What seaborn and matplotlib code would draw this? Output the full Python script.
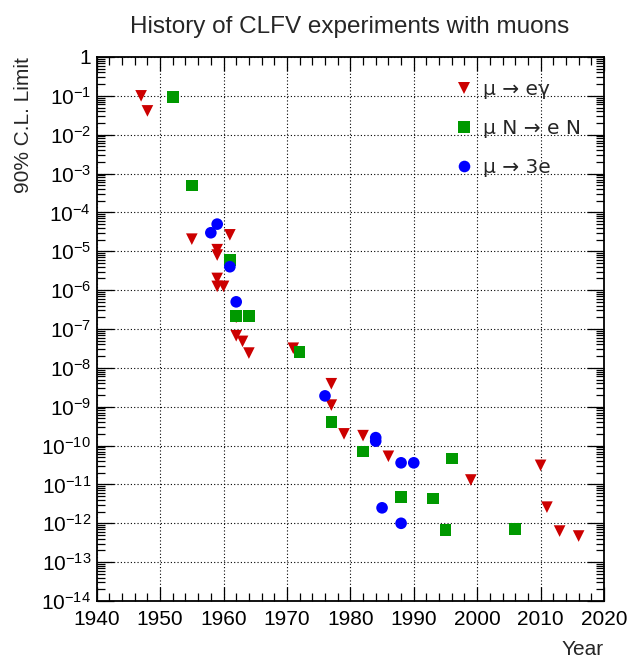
import numpy as np
import pandas as pd
import matplotlib
matplotlib.use("Agg")
import matplotlib.pyplot as plt
import matplotlib.ticker as mticker
import seaborn as sns

# ---------------- data ----------------
meg_year = [1947, 1948, 1955, 1961, 1959, 1959, 1959, 1959, 1960, 1962, 1962,
            1963, 1964, 1971, 1977, 1977, 1979, 1982, 1986, 1999, 2010, 2011,
            2013, 2016]
meg_limit = [1.0e-1, 4.1e-2, 2.05e-5, 2.65e-5, 1.1e-5, 8.0e-6, 2.0e-6, 1.25e-6,
             1.25e-6, 2.0e-7, 6.7e-8, 4.8e-8, 2.4e-8, 3.2e-8, 3.9e-9, 1.1e-9,
             2.0e-10, 1.8e-10, 5.3e-11, 1.3e-11, 3.1e-11, 2.6e-12, 6.3e-13,
             4.7e-13]

mue_year = [1952, 1955, 1961, 1962, 1964, 1972, 1977, 1982, 1988, 1993, 1995,
            1996, 2006]
mue_limit = [9.5e-2, 4.9e-4, 6.0e-6, 2.2e-7, 2.2e-7, 2.6e-8, 4.0e-10, 7.0e-11,
             4.7e-12, 4.3e-12, 6.6e-13, 4.6e-11, 7.2e-13]

m3e_year = [1958, 1959, 1961, 1962, 1976, 1984, 1984, 1985, 1988, 1990, 1988]
m3e_limit = [3.0e-5, 5.0e-5, 4.0e-6, 5.0e-7, 1.9e-9, 1.6e-10, 1.3e-10, 2.5e-12,
             3.6e-11, 3.6e-11, 1.0e-12]

processes = ["μ → eγ", "μ N → e N", "μ → 3e"]
colors = ["#cc0000", "#009900", "#0000ff"]
markers = ["v", "s", "o"]

xticks = [1940, 1950, 1960, 1970, 1980, 1990, 2000, 2010, 2020]
xtick_labels = ["1940", "1950", "1960", "1970", "1980", "1990", "2000", "2010", "2020"]
ytick_exps = list(range(0, -15, -1))
ytick_labels = ["1"] + [r"$10^{-%d}$" % (-e) for e in ytick_exps[1:]]

title = "History of CLFV experiments with muons"
xlabel = "Year"
ylabel = "90% C.L. Limit"

# ---------------- dataframe ----------------
df = pd.concat([
    pd.DataFrame({"year": meg_year, "limit": meg_limit, "process": processes[0]}),
    pd.DataFrame({"year": mue_year, "limit": mue_limit, "process": processes[1]}),
    pd.DataFrame({"year": m3e_year, "limit": m3e_limit, "process": processes[2]}),
], ignore_index=True)

# ---------------- style ----------------
sns.set_style("ticks")
plt.rcParams["font.family"] = ["Liberation Sans", "DejaVu Sans"]
plt.rcParams["mathtext.fontset"] = "custom"
plt.rcParams["mathtext.rm"] = "Liberation Sans"
plt.rcParams["mathtext.it"] = "Liberation Sans:italic"
plt.rcParams["mathtext.bf"] = "Liberation Sans:bold"

W, H = 630, 658
fig = plt.figure(figsize=(W / 100, H / 100), dpi=100)
ax_l, ax_r, ax_t, ax_b = 96.7, 604.0, 57.0, 601.0
ax = fig.add_axes([ax_l / W, 1 - ax_b / H, (ax_r - ax_l) / W, (ax_b - ax_t) / H])

fs = 15

sns.scatterplot(data=df, x="year", y="limit", hue="process", style="process",
                hue_order=processes, style_order=processes,
                palette=dict(zip(processes, colors)),
                markers=dict(zip(processes, markers)),
                s=70, linewidth=0, ax=ax, legend=True, zorder=3)

ax.set_yscale("log")
ax.set_xlim(1940, 2020)
ax.set_ylim(1e-14, 1)

ax.set_xticks(xticks, xtick_labels)
ax.xaxis.set_minor_locator(mticker.MultipleLocator(2))
ax.set_yticks([10.0 ** e for e in ytick_exps], ytick_labels)
ax.yaxis.set_minor_locator(mticker.LogLocator(base=10, subs=np.arange(2, 10), numticks=100))
ax.yaxis.set_minor_formatter(mticker.NullFormatter())

ax.tick_params(axis="both", which="both", direction="in", top=True, right=True,
               color="black", labelsize=fs, labelcolor="black")
ax.tick_params(axis="x", which="major", length=10.3, width=0.9, pad=6.5)
ax.tick_params(axis="x", which="minor", length=5.5, width=0.9)
ax.tick_params(axis="y", which="major", length=12, width=0.9, pad=4)
ax.tick_params(axis="y", which="minor", length=6, width=0.9)

for sp in ax.spines.values():
    sp.set_visible(True)
    sp.set_color("black")
    sp.set_linewidth(1.3)

ax.grid(True, which="major", color="black", linestyle=(0, (1, 2)), linewidth=0.8)
ax.set_axisbelow(True)

ax.set_xlabel("")
ax.set_ylabel("")

handles, labels = ax.get_legend_handles_labels()
ax.legend(handles, labels, loc="upper left", bbox_to_anchor=(0.7035, 0.958),
          frameon=False, prop={"family": "DejaVu Sans", "size": 14.5},
          handlelength=1.0, handletextpad=0.45,
          labelspacing=1.0, borderpad=0, borderaxespad=0, markerscale=1.0)

fig.text(350 / W, 1 - 33 / H, title, ha="center", va="baseline", fontsize=17.5)
fig.text(604 / W, 1 - 655 / H, xlabel, ha="right", va="baseline", fontsize=fs)
fig.text(29 / W, 1 - 57 / H, ylabel, ha="right", va="baseline", rotation=90,
         fontsize=fs, rotation_mode="anchor")

fig.savefig("out.png", dpi=100)
